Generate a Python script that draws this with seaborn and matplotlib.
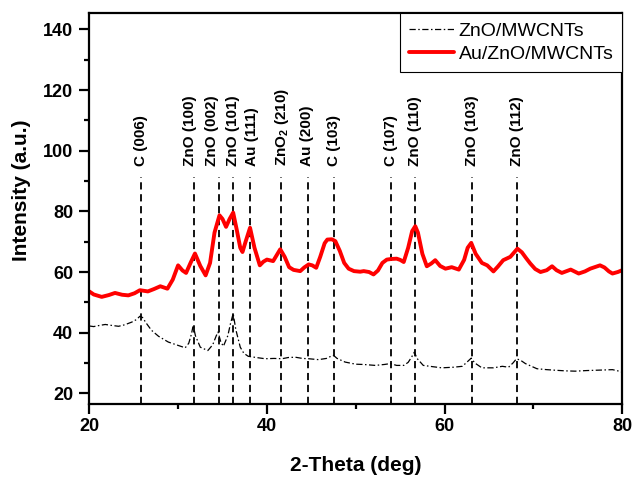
import numpy as np
import pandas as pd
import matplotlib
matplotlib.use("Agg")
import matplotlib.pyplot as plt
from matplotlib.ticker import MultipleLocator
import seaborn as sns

# ---------------- data ----------------
au_x = [20.0, 20.5, 21.4, 22.2, 22.9, 23.7, 24.4, 25.1, 25.7, 26.6, 27.3, 28.0, 28.8, 29.4,
        30.0, 30.5, 30.9, 31.4, 31.9, 32.5, 33.1, 33.6, 34.1, 34.66, 35.0, 35.4, 35.8, 36.2,
        36.6, 37.0, 37.25, 37.6, 38.1, 38.6, 39.2, 39.6, 40.0, 40.7, 41.5, 42.0, 42.5, 43.0,
        43.75, 44.2, 44.7, 45.1, 45.55, 46.0, 46.5, 46.8, 47.3, 47.7, 48.2, 48.7, 49.2, 49.8,
        50.5, 50.9, 51.5, 52.0, 52.5, 53.0, 53.5, 54.0, 54.6, 55.0, 55.4, 55.9, 56.35, 56.7,
        57.0, 57.5, 58.0, 58.5, 58.95, 59.5, 60.1, 60.8, 61.6, 62.2, 62.6, 63.0, 63.5, 64.2,
        64.8, 65.5, 66.0, 66.6, 67.4, 68.2, 68.7, 69.2, 69.65, 70.2, 70.8, 71.5, 72.1, 72.6,
        73.2, 74.2, 75.1, 75.8, 76.4, 77.5, 78.0, 78.5, 78.9, 79.5, 80.0]
au_y = [53.6, 52.6, 51.8, 52.4, 53.1, 52.5, 52.3, 53.0, 54.0, 53.6, 54.4, 55.3, 54.5, 57.5,
        62.2, 60.5, 59.7, 63.0, 66.1, 62.0, 58.9, 63.0, 73.0, 78.7, 77.5, 74.9, 77.5, 79.6,
        74.0, 68.0, 66.6, 70.0, 74.6, 68.0, 62.2, 63.4, 64.1, 63.6, 67.5, 65.0, 61.6, 60.7,
        60.3, 61.5, 62.5, 62.2, 61.4, 65.0, 69.5, 70.7, 70.8, 70.2, 67.0, 63.0, 61.1, 60.3,
        60.1, 60.3, 60.0, 59.2, 60.5, 63.0, 64.1, 64.3, 64.4, 64.0, 63.3, 68.0, 73.5, 75.1,
        73.0, 66.0, 61.9, 62.8, 63.9, 62.0, 61.1, 61.6, 60.8, 64.0, 68.0, 69.6, 66.0, 63.0,
        62.2, 60.2, 61.8, 63.9, 65.0, 67.7, 66.5, 64.5, 62.8, 61.0, 60.0, 60.6, 61.9, 60.6,
        59.7, 60.8, 59.5, 60.2, 61.1, 62.2, 61.5, 60.2, 59.5, 60.0, 60.6]

zno_x = [20.0, 20.5, 21.0, 21.8, 22.5, 23.3, 24.0, 24.8, 25.3, 25.7, 26.0, 26.4, 27.0, 27.8,
         28.9, 29.8, 30.8, 31.2, 31.5, 31.7, 31.95, 32.5, 33.35, 33.9, 34.3, 34.5, 34.8, 35.1,
         35.6, 35.9, 36.2, 36.5, 37.0, 37.4, 37.9, 38.8, 39.8, 40.8, 41.7, 42.4, 43.2, 44.0,
         44.7, 45.8, 46.7, 47.2, 47.5, 47.9, 48.8, 50.0, 50.9, 52.2, 53.2, 53.9, 54.6, 55.4,
         55.9, 56.3, 56.6, 56.9, 57.6, 58.6, 59.7, 61.0, 62.0, 62.6, 63.0, 63.4, 64.2, 65.5,
         66.5, 67.2, 67.7, 68.1, 68.6, 69.1, 70.4, 71.5, 72.5, 73.6, 74.7, 76.0, 77.0, 78.0,
         78.9, 79.5, 80.0]
zno_y = [42.2, 42.0, 42.3, 42.7, 42.4, 42.1, 42.6, 43.5, 44.3, 45.4, 45.0, 43.2, 40.8, 38.8,
         36.9, 36.0, 35.0, 36.5, 39.5, 42.4, 39.0, 35.2, 34.1, 36.0, 39.0, 40.2, 37.0, 35.5,
         39.0, 43.0, 46.3, 41.0, 35.2, 33.2, 32.2, 31.8, 31.4, 31.5, 31.4, 31.8, 31.9, 31.5,
         31.4, 31.1, 31.5, 32.2, 32.5, 31.5, 30.3, 29.6, 29.5, 29.2, 29.5, 29.8, 29.2, 29.2,
         30.2, 32.0, 33.6, 31.5, 29.2, 28.8, 28.4, 28.6, 28.9, 30.5, 31.6, 30.0, 28.4, 28.4,
         28.9, 28.6, 30.0, 31.4, 30.8, 29.8, 28.1, 27.8, 27.6, 27.4, 27.3, 27.5, 27.6, 27.7,
         27.8, 27.4, 27.0]

peak_pos = [25.8, 31.75, 34.55, 36.2, 38.1, 41.55, 44.65, 47.55, 54.0, 56.7, 63.05, 68.1]
peak_labels = ["C (006)", "ZnO (100)", "ZnO (002)", "ZnO (101)", "Au (111)",
               r"ZnO$_\mathbf{2}$ (210)", "Au (200)", "C (103)", "C (107)", "ZnO (110)",
               "ZnO (103)", "ZnO (112)"]
label_shift = [0.0, -0.45, -0.7, -0.05, 0.2, 0.1, -0.15, 0.0, 0.0, 0.0, 0.0, 0.0]

series_names = ["ZnO/MWCNTs", "Au/ZnO/MWCNTs"]

# ---------------- style ----------------
sns.set_style("ticks")
plt.rcParams["font.family"] = ["Liberation Sans", "DejaVu Sans"]
plt.rcParams["mathtext.fontset"] = "custom"
plt.rcParams["mathtext.rm"] = "Liberation Sans"
plt.rcParams["mathtext.bf"] = "Liberation Sans:bold"
plt.rcParams["text.color"] = "black"
plt.rcParams["axes.labelcolor"] = "black"
plt.rcParams["xtick.color"] = "black"
plt.rcParams["ytick.color"] = "black"

fig = plt.figure(figsize=(6.33, 4.78), dpi=100)
ax = fig.add_axes([0.141, 0.155, 0.842, 0.817])

df_zno = pd.DataFrame({"x": zno_x, "y": zno_y})
df_au = pd.DataFrame({"x": au_x, "y": au_y})

ymin, ymax = 16.5, 145.3

# reference lines
ax.vlines(peak_pos, ymin, 91.3, colors="black", linewidth=1.3,
          linestyles=[(0, (4.0, 2.6))])
for p, lab, s in zip(peak_pos, peak_labels, label_shift):
    ax.text(p + s, 95.0, lab, rotation=90, ha="center", va="bottom",
            fontsize=11, fontweight="bold", color="black")

sns.lineplot(data=df_zno, x="x", y="y", ax=ax, color="black", linewidth=0.9,
             linestyle=(0, (5, 2, 1.2, 2)), label=series_names[0],
             sort=False, estimator=None)
sns.lineplot(data=df_au, x="x", y="y", ax=ax, color="#ff0000", linewidth=2.8,
             label=series_names[1], sort=False, estimator=None)

ax.set_xlim(20, 80)
ax.set_ylim(ymin, ymax)
ax.xaxis.set_major_locator(MultipleLocator(20))
ax.xaxis.set_minor_locator(MultipleLocator(10))
ax.yaxis.set_major_locator(MultipleLocator(20))
ax.yaxis.set_minor_locator(MultipleLocator(10))
ax.set_yticks([20, 40, 60, 80, 100, 120, 140])

for sp in ax.spines.values():
    sp.set_linewidth(1.6)
    sp.set_color("black")
ax.tick_params(which="major", direction="out", length=7, width=1.6,
               labelsize=13, colors="black")
ax.tick_params(which="minor", direction="out", length=3.5, width=1.6,
               colors="black")
ax.tick_params(axis="y", which="major", pad=4.5)
ax.tick_params(axis="x", which="major", pad=3)
for t in ax.get_xticklabels() + ax.get_yticklabels():
    t.set_fontweight("bold")

ax.set_xlabel("2-Theta (deg)", fontsize=15, fontweight="bold", labelpad=15,
              color="black")
ax.set_ylabel("Intensity (a.u.)", fontsize=15, fontweight="bold", color="black")
ax.yaxis.set_label_coords(-0.11, 0.546)

leg = ax.legend(loc="upper right", borderaxespad=0, fontsize=14, frameon=True,
                fancybox=False, handlelength=2.3, handletextpad=0.25,
                labelspacing=0.3, borderpad=0.45)
leg.get_frame().set_edgecolor("black")
leg.get_frame().set_linewidth(0.8)
leg.get_frame().set_alpha(1.0)
for t in leg.get_texts():
    t.set_color("black")

fig.savefig("out.png", dpi=100)
